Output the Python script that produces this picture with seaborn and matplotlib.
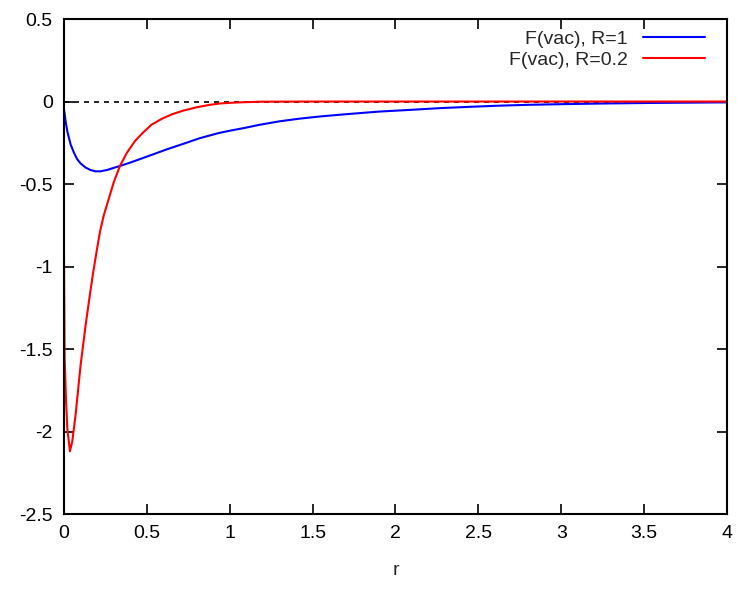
import matplotlib.pyplot as plt
import numpy as np
import pandas as pd
import seaborn as sns

# F(vac) for R=1
r_blue = [0.0, 0.005, 0.01, 0.02, 0.04, 0.06, 0.08, 0.1, 0.13, 0.16, 0.19, 0.22, 0.26,
          0.3, 0.34, 0.4, 0.45, 0.53, 0.62, 0.73, 0.82, 0.93, 1.0, 1.09, 1.18, 1.3,
          1.42, 1.55, 1.7, 1.9, 2.1, 2.27, 2.45, 2.63, 2.8, 3.0, 3.25, 3.5, 3.75, 4.0]
f_blue = [-0.05, -0.08, -0.12, -0.18, -0.26, -0.31, -0.35, -0.375, -0.40, -0.415, -0.423,
          -0.423, -0.415, -0.402, -0.39, -0.37, -0.352, -0.323, -0.29, -0.253, -0.222,
          -0.192, -0.177, -0.16, -0.141, -0.12, -0.104, -0.09, -0.077, -0.061, -0.05,
          -0.04, -0.032, -0.025, -0.02, -0.016, -0.012, -0.009, -0.007, -0.005]

# F(vac) for R=0.2
r_red = [0.0, 0.004, 0.012, 0.02, 0.036, 0.05, 0.07, 0.1, 0.13, 0.155, 0.177, 0.2, 0.217,
         0.24, 0.267, 0.3, 0.338, 0.38, 0.428, 0.48, 0.529, 0.59, 0.65, 0.72, 0.8, 0.88,
         0.94, 1.0, 1.09, 1.19, 1.5, 2.0, 3.0, 4.0]
f_red = [-0.9, -1.55, -1.8, -1.98, -2.12, -2.06, -1.9, -1.6, -1.36, -1.18, -1.03, -0.89,
         -0.79, -0.69, -0.6, -0.49, -0.39, -0.31, -0.24, -0.185, -0.14, -0.105, -0.078,
         -0.055, -0.035, -0.02, -0.012, -0.008, -0.004, -0.001, 0.0, 0.0, 0.0, 0.0]

labels = ['F(vac), R=1', 'F(vac), R=0.2']

df = pd.concat([
    pd.DataFrame({'r': r_blue, 'F': f_blue, 'curve': labels[0]}),
    pd.DataFrame({'r': r_red, 'F': f_red, 'curve': labels[1]}),
], ignore_index=True)

sns.set_style('ticks')
plt.rcParams['font.family'] = ['Liberation Sans', 'DejaVu Sans']
plt.rcParams['font.size'] = 14

fig = plt.figure(figsize=(7.37, 5.89), dpi=100)
ax = fig.add_axes([0.0868, 0.1273, 0.8996, 0.8404])

ax.axhline(0, color='black', lw=1.2, ls=(0, (3, 3)), zorder=1)
sns.lineplot(data=df, x='r', y='F', hue='curve', palette=['#0000ff', '#ff0000'],
             estimator=None, sort=False, lw=1.5, ax=ax, zorder=2)

ax.set_xlim(0, 4)
ax.set_ylim(-2.5, 0.5)
ax.set_xticks(np.arange(0, 4.01, 0.5))
ax.set_yticks(np.arange(-2.5, 0.51, 0.5))
ax.set_xticklabels(['0', '0.5', '1', '1.5', '2', '2.5', '3', '3.5', '4'])
ax.set_yticklabels(['-2.5', '-2', '-1.5', '-1', '-0.5', '0', '0.5'])
ax.tick_params(direction='in', length=7, width=1.2, top=True, right=True,
               labelsize=14, pad=8, colors='black')
for s in ax.spines.values():
    s.set_linewidth(1.5)
    s.set_color('black')
    s.set_visible(True)

ax.set_xlabel('r', fontsize=14, labelpad=14)
ax.set_ylabel('')

ax.legend(loc='upper right', frameon=False, markerfirst=False, fontsize=14,
          handlelength=3.2, borderaxespad=0.2, labelspacing=0.15,
          bbox_to_anchor=(0.985, 1.0))

fig.savefig('out.png', dpi=100)
